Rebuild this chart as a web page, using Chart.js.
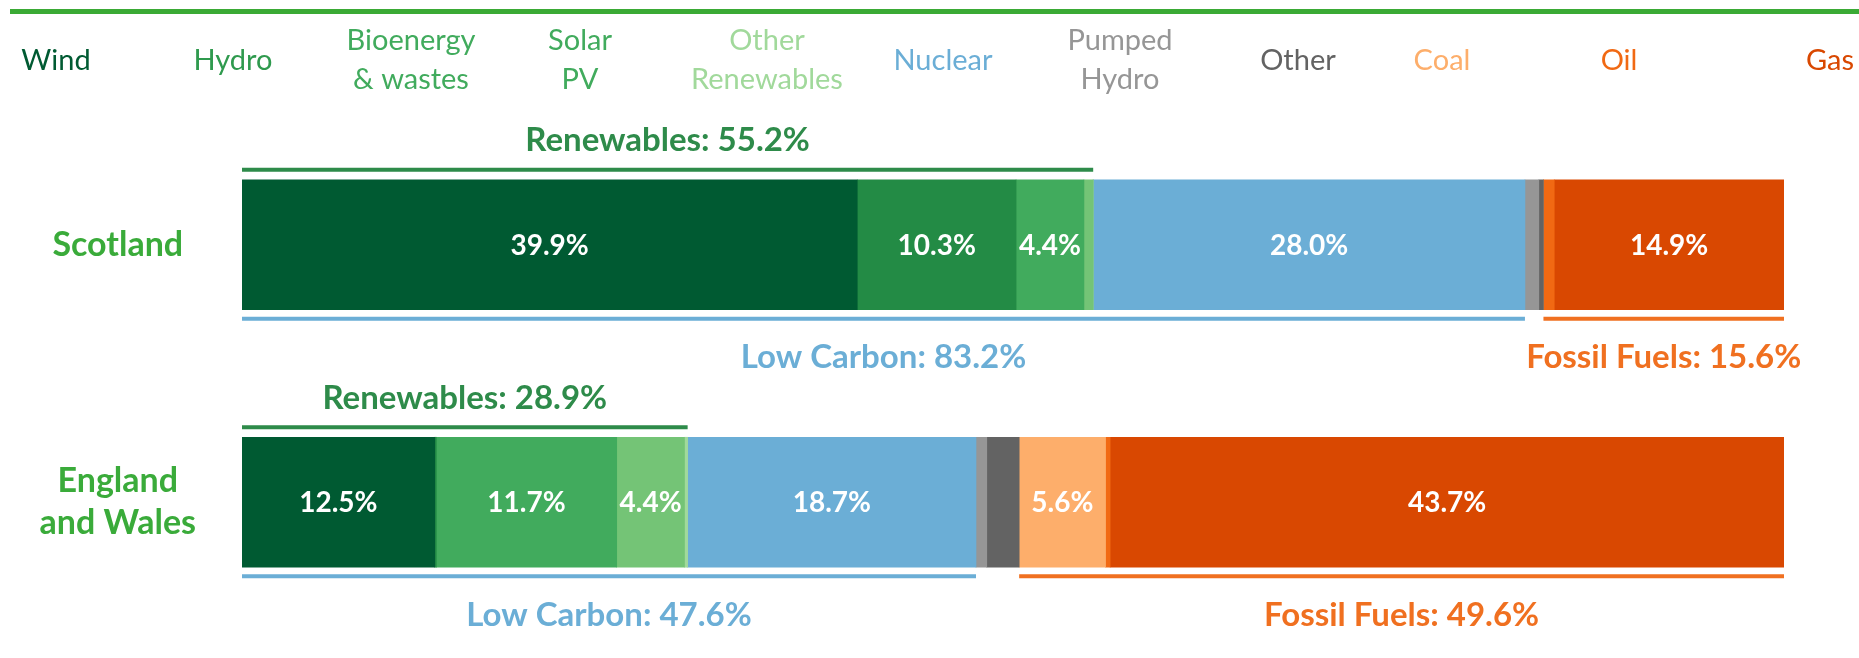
<!DOCTYPE html>
<html>
<head>
<meta charset="utf-8">
<script src="https://cdn.jsdelivr.net/npm/chart.js@4.4.1/dist/chart.umd.min.js"></script>
<style>
  html, body { margin: 0; padding: 0; background: #fff; }
  #wrap { width: 1859px; height: 658px; position: relative; }
</style>
</head>
<body>
<div id="wrap"><canvas id="mix"></canvas></div>
<script>
// data
const regions = ["Scotland", ["England", "and Wales"]];
const sources = ["Wind", "Hydro", "Bioenergy & wastes", "Solar PV", "Other Renewables",
  "Nuclear", "Pumped Hydro", "Other", "Coal", "Oil", "Gas"];
const legendLines = [["Wind"], ["Hydro"], ["Bioenergy", "& wastes"], ["Solar", "PV"],
  ["Other", "Renewables"], ["Nuclear"], ["Pumped", "Hydro"], ["Other"], ["Coal"], ["Oil"], ["Gas"]];
const scotland = [39.9, 10.3, 4.4, 0.6, 0.0, 28.0, 0.9, 0.3, 0.0, 0.7, 14.9];
const englandWales = [12.5, 0.1, 11.7, 4.4, 0.2, 18.7, 0.7, 2.1, 5.6, 0.3, 43.7];
const groupNames = ["Renewables", "Low Carbon", "Fossil Fuels"];
const groupRanges = [[0, 4], [0, 5], [8, 10]];

// styles
const colors = ["#005a32", "#238b45", "#41ab5d", "#74c476", "#a1d99b",
  "#6baed6", "#969696", "#636363", "#fdae6b", "#f16913", "#d94801"];
const legendColors = ["#005a32", "#2f9a4e", "#41ab5d", "#41ab5d", "#a1d99b",
  "#6baed6", "#969696", "#636363", "#fdae6b", "#f16913", "#d94801"];
const legendX = [56, 233, 411, 580, 767, 943, 1120, 1298, 1442, 1619, 1830];
const groupColors = ["#2e8b4a", "#6baed6", "#f07020"];
const groupAbove = [true, false, false];
const FONT = "Lato, 'Open Sans', sans-serif";

const rows = [scotland, englandWales];
const datasets = sources.map((name, i) => ({
  label: name,
  data: rows.map((row) => row[i]),
  backgroundColor: colors[i],
  borderWidth: 0,
  barThickness: 130,
}));

function cumulative(row, upto) {
  let sum = 0;
  for (let k = 0; k < upto; k++) sum += row[k];
  return sum;
}

const overlay = {
  id: "overlay",
  beforeDraw(chart) {
    const ctx = chart.ctx;
    ctx.save();
    ctx.fillStyle = "#3aaa35";
    ctx.fillRect(10, 9, chart.width - 10, 5);

    ctx.font = `29px ${FONT}`;
    ctx.textAlign = "center";
    ctx.textBaseline = "alphabetic";
    legendLines.forEach((lines, i) => {
      ctx.fillStyle = legendColors[i];
      if (lines.length === 1) {
        ctx.fillText(lines[0], legendX[i], 70);
      } else {
        ctx.fillText(lines[0], legendX[i], 50);
        ctx.fillText(lines[1], legendX[i], 89);
      }
    });
    ctx.restore();
  },
  afterDatasetsDraw(chart) {
    const ctx = chart.ctx;
    const xScale = chart.scales.x;
    ctx.save();

    // values inside segments
    ctx.font = `bold 28px ${FONT}`;
    ctx.fillStyle = "#ffffff";
    ctx.textAlign = "center";
    ctx.textBaseline = "middle";
    chart.data.datasets.forEach((ds, i) => {
      chart.getDatasetMeta(i).data.forEach((bar, j) => {
        const v = ds.data[j];
        if (v >= 4) {
          ctx.fillText(`${v.toFixed(1)}%`, (bar.x + bar.base) / 2, bar.y + 1);
        }
      });
    });

    // group brackets
    ctx.font = `bold 33px ${FONT}`;
    rows.forEach((row, j) => {
      const bar = chart.getDatasetMeta(0).data[j];
      const top = bar.y - bar.height / 2;
      const bottom = bar.y + bar.height / 2;
      groupNames.forEach((name, g) => {
        const [from, to] = groupRanges[g];
        const x0 = xScale.getPixelForValue(cumulative(row, from));
        const x1 = xScale.getPixelForValue(cumulative(row, to + 1));
        const total = cumulative(row, to + 1) - cumulative(row, from);
        const lineY = groupAbove[g] ? top - 10 : bottom + 9;
        const textY = groupAbove[g] ? top - 39 : bottom + 48;
        ctx.fillStyle = groupColors[g];
        ctx.fillRect(x0, lineY - 2, x1 - x0, 4);
        ctx.fillText(`${name}: ${total.toFixed(1)}%`, (x0 + x1) / 2, textY);
      });
    });
    ctx.restore();
  },
};

new Chart(document.getElementById("mix"), {
  type: "bar",
  data: { labels: regions, datasets },
  options: {
    indexAxis: "y",
    responsive: true,
    maintainAspectRatio: false,
    animation: false,
    layout: { padding: { top: 116, bottom: 27, right: 75, left: 0 } },
    plugins: {
      legend: { display: false },
      tooltip: { enabled: false },
    },
    scales: {
      x: {
        stacked: true,
        min: 0,
        max: 100,
        display: false,
      },
      y: {
        stacked: true,
        grid: { display: false },
        border: { display: false },
        afterFit(scale) {
          scale.width = 242;
          scale.paddingTop = 0;
          scale.paddingBottom = 0;
        },
        ticks: {
          color: "#3aab3a",
          crossAlign: "center",
          padding: 38,
          font: { family: FONT, size: 34, weight: "bold", lineHeight: 1.25 },
        },
      },
    },
  },
  plugins: [overlay],
});
</script>
</body>
</html>
